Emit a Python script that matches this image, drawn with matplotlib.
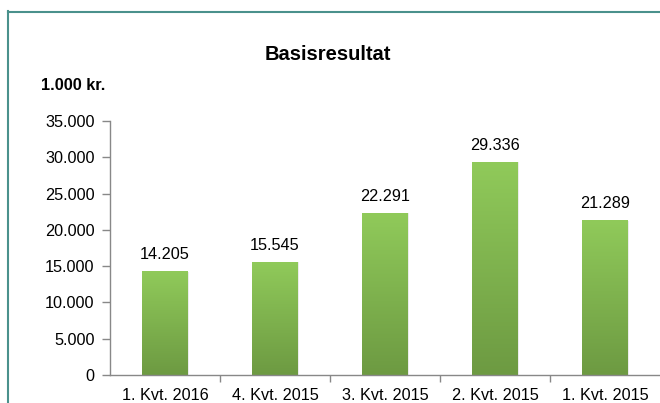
import numpy as np
import matplotlib
matplotlib.use("Agg")
import matplotlib.pyplot as plt
from matplotlib.lines import Line2D
from matplotlib.colors import LinearSegmentedColormap

# Data
categories = ["1. Kvt. 2016", "4. Kvt. 2015", "3. Kvt. 2015", "2. Kvt. 2015", "1. Kvt. 2015"]
values = [14205, 15545, 22291, 29336, 21289]
yticks = [0, 5000, 10000, 15000, 20000, 25000, 30000, 35000]


def dk(v):
    # danish thousands separator
    return f"{v:,.0f}".replace(",", ".")


plt.rcParams['font.family'] = ['Liberation Sans', 'DejaVu Sans']

fig = plt.figure(figsize=(6.6, 4.03), dpi=100)
ax = fig.add_axes([110 / 660, 28 / 403, 550 / 660, 254 / 403])

x = np.arange(len(categories))
bar_w = 0.41
cmap = LinearSegmentedColormap.from_list("grn", ["#6d9a42", "#90ca5a"])
grad = np.linspace(0, 1, 256).reshape(-1, 1)

for xi, v in zip(x, values):
    # faint shadow on the right side
    ax.bar(xi + 0.012, v, width=bar_w, color="#ebebeb", zorder=1)
    ax.imshow(grad, cmap=cmap, origin="lower", aspect="auto",
              extent=(xi - bar_w / 2, xi + bar_w / 2, 0, v), zorder=2)
    ax.text(xi, v + 1300, dk(v), ha="center", va="bottom", fontsize=11.7, color="#000000")

ax.set_xlim(-0.5, len(categories) - 0.5)
ax.set_ylim(0, 35000)

ax.set_yticks(yticks)
ax.set_yticklabels([dk(t) for t in yticks], fontsize=11.7)
ax.set_xticks(x)
ax.set_xticklabels(categories, fontsize=11.7)
ax.set_xticks(x[:-1] + 0.5, minor=True)

ax.tick_params(axis="y", length=6, width=1, color="#888888", pad=5)
ax.tick_params(axis="x", which="major", length=0, pad=9)
ax.tick_params(axis="x", which="minor", length=5, width=1, color="#888888")

for s in ["top", "right"]:
    ax.spines[s].set_visible(False)
for s in ["left", "bottom"]:
    ax.spines[s].set_color("#888888")
    ax.spines[s].set_linewidth(1)

# Titles
fig.text(328 / 660, 1 - 54 / 403, "Basisresultat", ha="center", va="center",
         fontsize=14.5, fontweight="bold")
fig.text(41 / 660, 1 - 85 / 403, "1.000 kr.", ha="left", va="center",
         fontsize=11.7, fontweight="bold")

# chart frame (left and top edges)
frame_c = "#4a918c"
fig.add_artist(Line2D([8 / 660, 8 / 660], [0, 1 - 11 / 403], color=frame_c, lw=1.5,
                      transform=fig.transFigure))
fig.add_artist(Line2D([8 / 660, 1], [1 - 11.5 / 403, 1 - 11.5 / 403], color=frame_c, lw=1.5,
                      transform=fig.transFigure))

fig.savefig("out.png", dpi=100)
